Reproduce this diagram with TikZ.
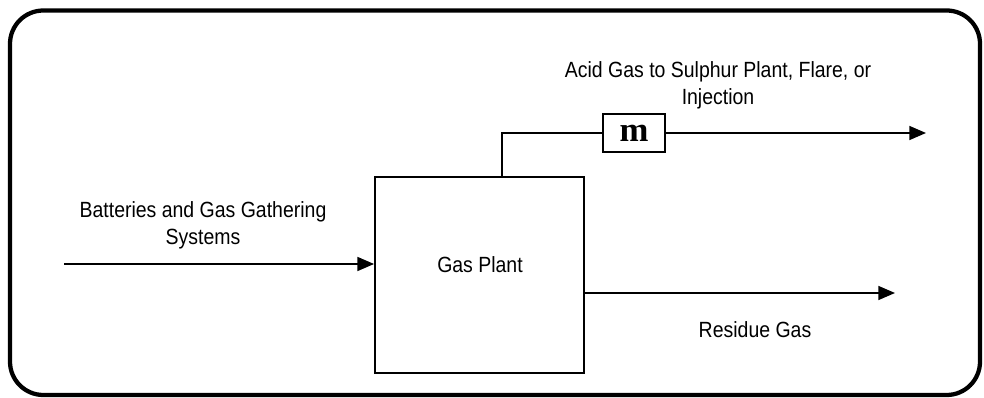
\documentclass[tikz,border=0pt]{standalone}
\usepackage{fontspec}
\usepackage{graphicx}
\setmainfont{Liberation Sans}
\newfontfamily\serifbold{Liberation Serif}
\newcommand{\tallline}[1]{\scalebox{1}[1.13]{#1}}
\usetikzlibrary{arrows.meta}
\begin{document}
\begin{tikzpicture}[x=0.75pt,y=-0.75pt,
  lbl/.style={font=\fontsize{14.6}{20}\selectfont, align=center, inner sep=0pt},
  flow/.style={line width=1.1pt, -{Triangle[length=12.5pt,width=10.5pt]}},
  plain/.style={line width=1.1pt},
  boxst/.style={draw, line width=1.4pt, inner sep=0pt}]
\useasboundingbox (0,0) rectangle (984,398);
\draw[line width=3.2pt, rounded corners=25pt] (10,10.5) rectangle (980,395);
\node[boxst, minimum width=209*0.75pt, minimum height=196*0.75pt] (plant) at (479.5,275) {};
\node[lbl] (plantlbl) at (480,265) {\tallline{Gas Plant}};
\node[boxst, minimum width=62*0.75pt, minimum height=38*0.75pt,
      font=\serifbold\bfseries\fontsize{26}{26}\selectfont] (m) at (634,133) {m};
\coordinate (in) at (64,264);
\coordinate (bend) at (502,133);
\coordinate (acidend) at (926,133);
\coordinate (resstart) at (plant.east |- 0,293);
\coordinate (resend) at (895,293);
\draw[flow] (in) -- (in -| plant.west);
\draw[plain] (bend |- plant.north) -- (bend) -- (m.west);
\draw[flow] (m.east) -- (acidend);
\draw[flow] (resstart) -- (resend);
\node[lbl] (acidlbl) at (718,85) {\tallline{Acid Gas to Sulphur Plant, Flare, or}\\\tallline{Injection}};
\node[lbl] (inlbl) at (203,225) {\tallline{Batteries and Gas Gathering}\\\tallline{Systems}};
\node[lbl] (reslbl) at (755,330) {\tallline{Residue Gas}};
\end{tikzpicture}
\end{document}
